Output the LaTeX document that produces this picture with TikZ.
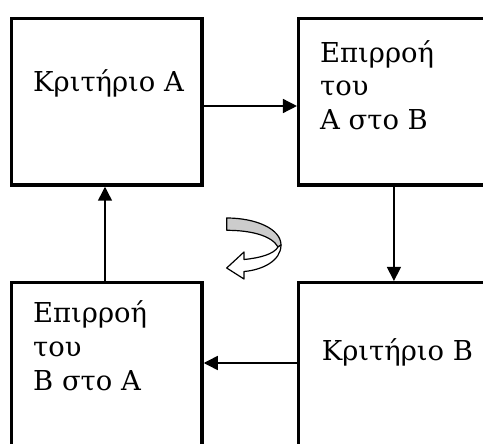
\documentclass[tikz,border=0pt]{standalone}
\usepackage{fontspec}
\setmainfont{DejaVu Serif}
\usetikzlibrary{arrows.meta}
\begin{document}
\begin{tikzpicture}[x=1pt,y=-1pt,
  box/.style={draw, line width=3.5pt, minimum width=190.5pt, minimum height=166.3pt, inner sep=0pt},
  txt/.style={anchor=base west, inner sep=0pt, align=left, font=\fontsize{27.4}{34}\selectfont},
  conn/.style={line width=1.5pt, -{Triangle[length=14pt,width=14pt]}},
  ribbon/.style={line width=1.2pt, line join=round}]
\useasboundingbox (0,0) rectangle (483,444);
\clip (0,0) rectangle (483,444);
\fill[white] (0,0) rectangle (483,444);

% the four boxes
\node[box] (A)  at (106.75,101.85) {};
\node[box] (TR) at (393.95,101.85) {};
\node[box] (BL) at (106.75,365.85) {};
\node[box] (BR) at (393.95,365.85) {};

% box texts (multi-line nodes sit on the baseline of their last line)
\node[txt] (tA)  at (33,92)     {Κριτήριο Α};
\node[txt] (tTR) at (320,130)   {Επιρροή\\του\\Α στο Β};
\node[txt] (tBL) at (33,390)    {Επιρροή\\του\\Β στο Α};
\node[txt] (tBR) at (321.7,360) {Κριτήριο Β};

% connectors around the loop
\draw[conn] ([yshift=-4.15pt]A.east) -- ([yshift=-4.15pt]TR.west);
\draw[conn] (TR.south) -- (BR.north);
\draw[conn] ([yshift=2.85pt]BR.west) -- ([yshift=2.85pt]BL.east);
\draw[conn] ([xshift=-1.75pt]BL.north) -- ([xshift=-1.75pt]A.south);

% turning ribbon arrow in the middle
\filldraw[ribbon, fill=gray!40]
  (226.7,218) .. controls (256,218) and (281,229) .. (281,245)
  -- (278,247) .. controls (272,236) and (252,230.3) .. (226.7,230.3) -- cycle;
\filldraw[ribbon, fill=white]
  (281,245) .. controls (281,261) and (262,270) .. (244,271.5)
  -- (244,279) -- (226.7,268) -- (244,252) -- (244,259.5)
  .. controls (260,258) and (274,254) .. (278,247) -- cycle;
\end{tikzpicture}
\end{document}
